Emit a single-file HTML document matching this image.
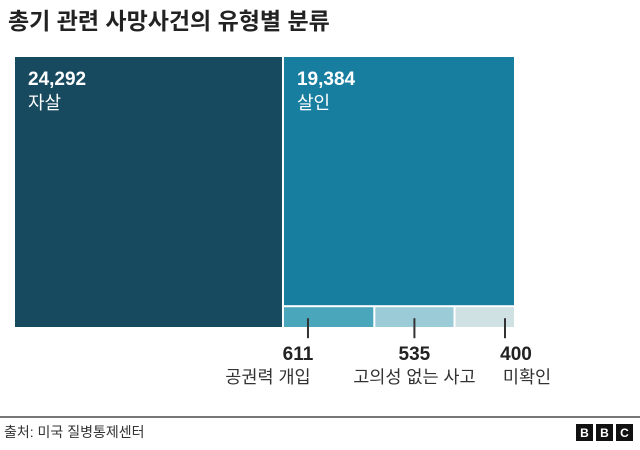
<!DOCTYPE html>
<html><head><meta charset="utf-8"><style>
body{margin:0;background:#fff;width:640px;height:445px;overflow:hidden;font-family:"Liberation Sans","Noto Sans CJK KR",sans-serif}
</style></head><body>
<svg width="640" height="445" style="font-family:'Liberation Sans','Noto Sans CJK KR',sans-serif">
<text x="8" y="29" font-size="23" font-weight="700" fill="#222">총기 관련 사망사건의 유형별 분류</text>
<g id="tm"></g>
<line x1="0" y1="417" x2="640" y2="417" stroke="#777" stroke-width="2"/>
<text x="4" y="437" font-size="14" fill="#333">출처: 미국 질병통제센터</text>
<g font-size="12" font-weight="700" fill="#fff" text-anchor="middle">
<rect x="576" y="424" width="17" height="17" fill="#111"/><text x="584.5" y="437">B</text>
<rect x="596" y="424" width="17" height="17" fill="#111"/><text x="604.5" y="437">B</text>
<rect x="616" y="424" width="17" height="17" fill="#111"/><text x="624.5" y="437">C</text>
</g>
</svg>
<script>
const bigLabels=["자살","살인"];
const bigValues=[24292,19384];
const smallLabels=["공권력 개입","고의성 없는 사고","미확인"];
const smallValues=[611,535,400];
const fmt=v=>v.toLocaleString('en-US');
const NS="http://www.w3.org/2000/svg";
const g=document.getElementById('tm');
function el(t,a){const e=document.createElementNS(NS,t);for(const k in a)e.setAttribute(k,a[k]);g.appendChild(e);return e;}
const X0=15,Y0=57,W=499,H=270,gap=2;
const smallSum=smallValues.reduce((a,b)=>a+b,0);
const rightTot=bigValues[1]+smallSum;
const total=bigValues[0]+rightTot;
const leftW=(W-gap)*bigValues[0]/total;
const rx=X0+leftW+gap, rw=X0+W-rx;
let r=el('rect',{x:X0,y:Y0,width:leftW,height:H,fill:'#174a5e'});


const smallH=(H-gap)*smallSum/rightTot;
const mainH=H-gap-smallH;
r=el('rect',{x:rx,y:Y0,width:rw,height:mainH,fill:'#187ea0'});


[[X0,bigValues[0],bigLabels[0]],[rx,bigValues[1],bigLabels[1]]].forEach(([x,v,l],i)=>{
 let t=el('text',{x:x+13,y:Y0+28,'font-size':19,'font-weight':700,fill:'#fff'});t.textContent=fmt(v);
 
 
 t=el('text',{x:x+13,y:Y0+52,'font-size':18,fill:'#fff'});t.textContent=l;
 
 
});
const cols=['#4aa6bb','#9ccbd8','#d0e1e4'];
const tickOff=[w=>24,w=>w/2,w=>w-9];
const valShift=[-10,0,11];
const labShift=[-40,0,22];
let cx=rx;const sy=Y0+mainH+gap;
const availW=rw-gap*(smallValues.length-1);
smallValues.forEach((v,i)=>{
 const w=availW*v/smallSum;
 let c=el('rect',{x:cx,y:sy,width:w,height:smallH,fill:cols[i]});
 
 
 const tx=cx+tickOff[i](w);
 let ln=el('line',{x1:tx,y1:sy+11,x2:tx,y2:sy+31,stroke:'#333','stroke-width':2});
 
 
 let t=el('text',{x:tx+valShift[i],y:360,'font-size':19,'font-weight':700,fill:'#222','text-anchor':'middle'});t.textContent=fmt(v);
 
 
 t=el('text',{x:tx+labShift[i],y:383,'font-size':17.5,fill:'#333','text-anchor':'middle'});t.textContent=smallLabels[i];
 
 
 cx+=w+gap;
});
</script>
</body></html>
